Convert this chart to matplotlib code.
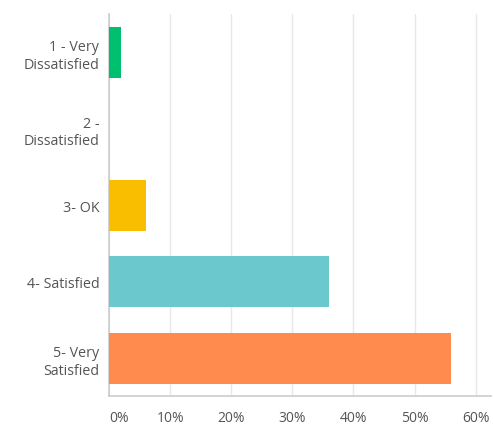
import matplotlib
matplotlib.use('Agg')
import matplotlib.pyplot as plt
from matplotlib.ticker import FixedLocator

# survey answers, percent of respondents
labels = ['1 - Very\nDissatisfied', '2 -\nDissatisfied', '3- OK', '4- Satisfied', '5- Very\nSatisfied']
values = [2, 0, 6, 36, 56]
colors = ['#00bf6f', '#f9be00', '#f9be00', '#6bc8cd', '#ff8b4f']
xticks = [0, 10, 20, 30, 40, 50, 60]

plt.rcParams['font.family'] = ['Open Sans', 'DejaVu Sans']

fig = plt.figure(figsize=(4.93, 4.27), dpi=100)
ax = fig.add_axes([109 / 493, 29.7 / 427, 382 / 493, 382.3 / 427])

ypos = list(range(len(labels)))
ax.barh(ypos, values, height=0.667, color=colors, zorder=3)

ax.set_ylim(4.5, -0.5)
ax.set_xlim(0, 62.5)
ax.set_yticks(ypos)
ax.set_yticklabels(labels, fontsize=10.3, color='#555555', linespacing=1.25)
ax.xaxis.set_major_locator(FixedLocator(xticks))
ax.set_xticklabels([f'{t}%' for t in xticks], fontsize=10, color='#555555')
ax.get_xticklabels()[0].set_horizontalalignment('left')

ax.tick_params(axis='both', length=0)
ax.tick_params(axis='x', pad=10)
ax.tick_params(axis='y', pad=7)

ax.grid(axis='x', color='#e8e8e8', linewidth=1, zorder=0)
for s in ['top', 'right']:
    ax.spines[s].set_visible(False)
ax.spines['left'].set_color('#cccccc')
ax.spines['bottom'].set_color('#cccccc')
ax.spines['left'].set_linewidth(1.2)
ax.spines['bottom'].set_linewidth(1.2)

fig.savefig('out.png', dpi=100)
